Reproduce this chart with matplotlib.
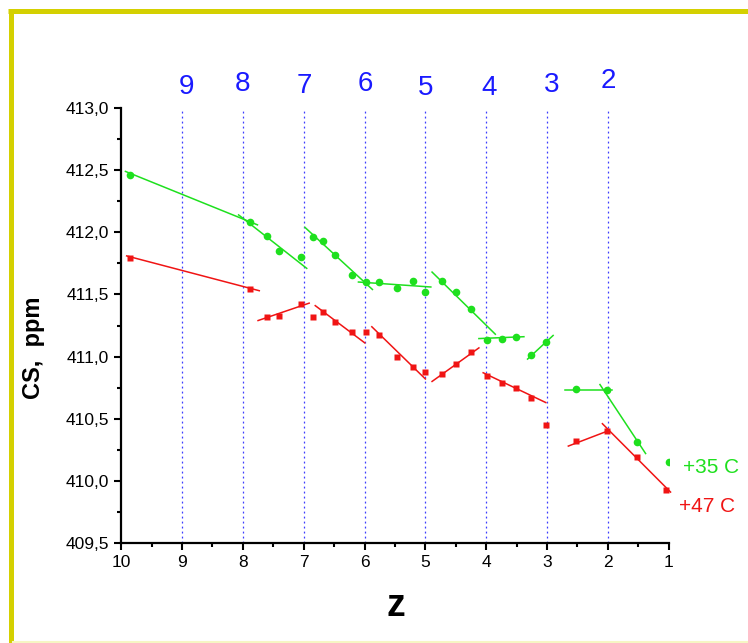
import matplotlib.pyplot as plt
from matplotlib.lines import Line2D
from matplotlib.ticker import MultipleLocator, FuncFormatter

plt.rcParams['font.family'] = ['Liberation Sans', 'DejaVu Sans']

# measured points (z, chemical shift in ppm)
green_z = [9.85, 7.885, 7.60, 7.41, 7.04, 6.84, 6.69, 6.49, 6.21, 5.98, 5.77, 5.46, 5.20,
           5.00, 4.73, 4.49, 4.25, 3.99, 3.74, 3.51, 3.26, 3.01, 2.52, 2.02, 1.52, 1.00]
green_cs = [412.46, 412.08, 411.97, 411.85, 411.80, 411.96, 411.93, 411.82, 411.66, 411.60,
            411.60, 411.55, 411.61, 411.52, 411.61, 411.52, 411.38, 411.13, 411.14, 411.16,
            411.01, 411.12, 410.74, 410.73, 410.31, 410.15]

red_z = [9.85, 7.885, 7.60, 7.41, 7.04, 6.84, 6.69, 6.49, 6.21, 5.98, 5.76, 5.46, 5.20,
         5.00, 4.73, 4.49, 4.25, 3.99, 3.74, 3.51, 3.26, 3.01, 2.52, 2.02, 1.52, 1.04]
red_cs = [411.79, 411.545, 411.32, 411.33, 411.42, 411.32, 411.36, 411.28, 411.20, 411.20,
          411.17, 411.00, 410.92, 410.88, 410.86, 410.94, 411.04, 410.84, 410.79, 410.75,
          410.67, 410.45, 410.32, 410.40, 410.19, 409.93]

# fitted line pieces (start / end)
green_seg_z0 = [9.93, 8.07, 6.98, 6.10, 4.89, 4.12, 3.32, 2.70, 2.13]
green_seg_z1 = [7.76, 6.95, 5.87, 4.91, 3.85, 3.38, 2.90, 1.93, 1.38]
green_seg_cs0 = [412.49, 412.14, 412.04, 411.60, 411.68, 411.145, 410.98, 410.73, 410.775]
green_seg_cs1 = [412.06, 411.71, 411.54, 411.56, 411.18, 411.16, 411.17, 410.73, 410.22]

red_seg_z0 = [9.91, 7.75, 6.81, 5.88, 4.89, 4.05, 2.65, 2.09]
red_seg_z1 = [7.73, 6.91, 5.995, 5.00, 4.12, 3.02, 2.01, 0.97]
red_seg_cs0 = [411.81, 411.29, 411.41, 411.24, 410.80, 410.87, 410.28, 410.46]
red_seg_cs1 = [411.53, 411.43, 411.11, 410.82, 411.07, 410.63, 410.40, 409.91]

marks = [9, 8, 7, 6, 5, 4, 3, 2]
mark_text_z = [8.92, 8.01, 6.99, 5.98, 4.99, 3.96, 2.92, 2.00]
mark_text_cs = [413.17, 413.19, 413.175, 413.19, 413.165, 413.165, 413.185, 413.215]

green = '#1ee01e'
red = '#f01414'
blue = '#1a1aff'

fig = plt.figure(figsize=(7.48, 6.43), dpi=100)
ax = fig.add_axes([0.162, 0.1555, 0.732, 0.6765])

for z in marks:
    ax.axvline(z, color=blue, ls=(0, (1.5, 2.5)), lw=0.9, alpha=0.85)
for t, z, c in zip(marks, mark_text_z, mark_text_cs):
    ax.text(z, c, str(t), color=blue, fontsize=20, ha='center', va='center', clip_on=False)

for a, b, c, d in zip(green_seg_z0, green_seg_z1, green_seg_cs0, green_seg_cs1):
    ax.plot([a, b], [c, d], color=green, lw=1.1, clip_on=False)
for a, b, c, d in zip(red_seg_z0, red_seg_z1, red_seg_cs0, red_seg_cs1):
    ax.plot([a, b], [c, d], color=red, lw=1.1, clip_on=False)

ax.plot(green_z, green_cs, 'o', color=green, ms=5.5, mec='none')
ax.plot(red_z, red_cs, 's', color=red, ms=5, mec='none', clip_on=False)

ax.set_xlim(10, 1)
ax.set_ylim(409.5, 413.0)
ax.xaxis.set_major_locator(MultipleLocator(1))
ax.xaxis.set_minor_locator(MultipleLocator(0.5))
ax.yaxis.set_major_locator(MultipleLocator(0.5))
ax.yaxis.set_minor_locator(MultipleLocator(0.25))
ax.yaxis.set_major_formatter(FuncFormatter(lambda v, p: f'{v:.1f}'.replace('.', ',')))
ax.xaxis.set_major_formatter(FuncFormatter(lambda v, p: f'{v:.0f}'))
ax.tick_params(which='major', length=5, width=1.5, labelsize=12.5, direction='out')
ax.tick_params(which='minor', length=3, width=1.5, direction='out')
for s in ['top', 'right']:
    ax.spines[s].set_visible(False)
for s in ['left', 'bottom']:
    ax.spines[s].set_linewidth(1.6)

ax.set_ylabel('CS,  ppm', fontsize=17, fontweight='bold', va='center')
ax.yaxis.set_label_coords(-0.16, 0.45)
ax.set_xlabel('z', fontsize=27, fontweight='bold', va='center')
ax.xaxis.set_label_coords(0.502, -0.145)

fig.text(0.913, 0.2737, '+35 C', color=green, fontsize=15, va='center')
fig.text(0.908, 0.213, '+47 C', color=red, fontsize=15, va='center')

# yellow frame
fig.add_artist(Line2D([10.5 / 748, 10.5 / 748], [0, 1 - 10.5 / 643], color='#d4d000', lw=3.6,
                      transform=fig.transFigure, solid_capstyle='butt'))
fig.add_artist(Line2D([8 / 748, 1], [1 - 10.5 / 643, 1 - 10.5 / 643], color='#d4d000', lw=3.6,
                      transform=fig.transFigure, solid_capstyle='butt'))
fig.add_artist(Line2D([13 / 748, 1], [1.2 / 643, 1.2 / 643], color='#f6f6c4', lw=1.5,
                      transform=fig.transFigure))

fig.savefig('out.png', dpi=100)
